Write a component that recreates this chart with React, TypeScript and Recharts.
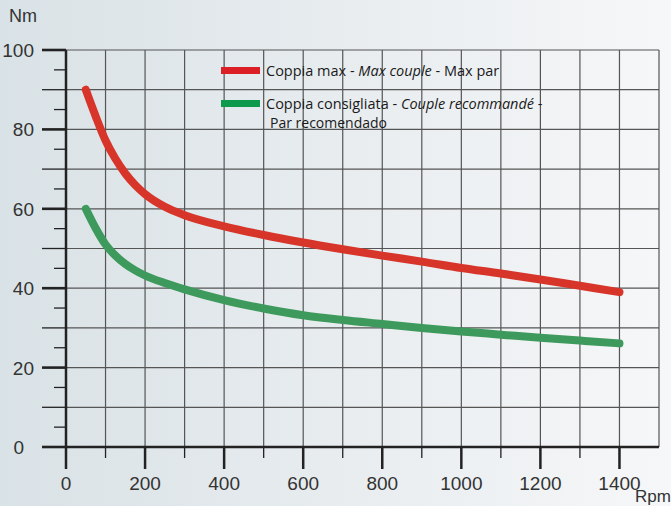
import React from "react";
import { LineChart, Line, XAxis, YAxis, CartesianGrid } from "recharts";

// rpm values where the curves were read
const rpm = [50, 75, 100, 125, 150, 175, 200, 250, 300, 400, 500, 600, 700, 800, 900, 1000, 1100, 1200, 1300, 1400];
// Coppia max (Nm)
const maxTorque = [90, 83.3, 77.2, 72.6, 68.9, 66, 63.7, 60.5, 58.4, 55.6, 53.4, 51.5, 49.8, 48.2, 46.7, 45.1, 43.7, 42.2, 40.6, 39];
// Coppia consigliata (Nm)
const recTorque = [60, 55.1, 51, 48.2, 46.1, 44.5, 43.2, 41.3, 39.7, 37, 34.9, 33.2, 32, 31, 30, 29.1, 28.3, 27.5, 26.8, 26.1];

const xTicks = [0, 100, 200, 300, 400, 500, 600, 700, 800, 900, 1000, 1100, 1200, 1300, 1400, 1500];
const xLabels = [0, 200, 400, 600, 800, 1000, 1200, 1400];
const yTicks = [0, 5, 10, 15, 20, 25, 30, 35, 40, 45, 50, 55, 60, 65, 70, 75, 80, 85, 90, 95, 100];
const yGrid = [0, 10, 20, 30, 40, 50, 60, 70, 80, 90, 100];
const yLabels = [0, 20, 40, 60, 80, 100];

const data = rpm.map((r, i) => ({ rpm: r, max: maxTorque[i], rec: recTorque[i] }));

const RED = "#d8352a";
const GREEN = "#3d9a5c";
const FONT = "'Liberation Sans', Arial, sans-serif";

const XTick = (props: any) => {
  const { x, y, payload } = props;
  const v = payload.value;
  if (v > 1400) return <g />;
  const major = v % 200 === 0;
  return (
    <g>
      <line x1={x} x2={x} y1={y} y2={y + (major ? 22 : 11)} stroke="#222" strokeWidth={major ? 2.5 : 1.3} />
      {xLabels.includes(v) && (
        <text x={x} y={y + 43} textAnchor="middle" fontSize={19} fill="#333" fontFamily={FONT}>
          {v}
        </text>
      )}
    </g>
  );
};

const YTick = (props: any) => {
  const { x, y, payload } = props;
  const v = payload.value;
  const ten = v % 10 === 0;
  const labelled = yLabels.includes(v);
  return (
    <g>
      <line
        x1={ten ? x - 24 : x - 12}
        x2={x}
        y1={y}
        y2={y}
        stroke="#222"
        strokeWidth={labelled ? 2.6 : 1.3}
      />
      {labelled && (
        <text
          x={v === 0 ? x - 42 : x - 32}
          y={y + 7}
          textAnchor="end"
          fontSize={19}
          fill="#333"
          fontFamily={FONT}
        >
          {v}
        </text>
      )}
    </g>
  );
};

export default function App() {
  return (
    <div
      style={{
        position: "absolute",
        left: 0,
        top: 0,
        width: 671,
        height: 506,
        background: "linear-gradient(to right, #d9e2e6 0%, #e6ebee 45%, #f6f7f8 100%)",
        overflow: "hidden",
      }}
    >
      <LineChart width={671} height={506} data={data} margin={{ top: 50, right: 12, bottom: 0, left: 0 }}>
        <CartesianGrid
          stroke="#555"
          strokeWidth={1.2}
          horizontalValues={yGrid}
          verticalValues={xTicks}
        />
        <XAxis
          dataKey="rpm"
          type="number"
          domain={[0, 1500]}
          ticks={xTicks}
          height={59}
          tickSize={0}
          tickMargin={0}
          tickLine={false}
          axisLine={{ stroke: "#222", strokeWidth: 2.5 }}
          tick={<XTick />}
          interval={0}
        />
        <YAxis
          type="number"
          domain={[0, 100]}
          ticks={yTicks}
          width={66}
          tickSize={0}
          tickMargin={0}
          tickLine={false}
          axisLine={{ stroke: "#222", strokeWidth: 2.5 }}
          tick={<YTick />}
          interval={0}
        />
        <Line
          type="monotone"
          dataKey="max"
          stroke={RED}
          strokeWidth={8}
          strokeLinecap="round"
          dot={false}
          isAnimationActive={false}
        />
        <Line
          type="monotone"
          dataKey="rec"
          stroke={GREEN}
          strokeWidth={8}
          strokeLinecap="round"
          dot={false}
          isAnimationActive={false}
        />
      </LineChart>

      <div style={{ position: "absolute", left: 9, top: 6, fontSize: 18, color: "#333", fontFamily: FONT }}>Nm</div>
      <div style={{ position: "absolute", left: 635, top: 487, fontSize: 17, lineHeight: "19px", color: "#333", fontFamily: FONT }}>Rpm</div>

      <div
        style={{
          position: "absolute",
          left: 221,
          top: 62,
          fontFamily: "'Open Sans', sans-serif",
          fontSize: 14.5,
          color: "#1a1a1a",
          lineHeight: "17px",
        }}
      >
        <div style={{ display: "flex", alignItems: "center" }}>
          <span style={{ display: "inline-block", width: 39, height: 7, background: "#dc1f26", marginRight: 6 }} />
          <span>
            Coppia max - <i>Max couple</i> - Max par
          </span>
        </div>
        <div style={{ display: "flex", alignItems: "center", marginTop: 16 }}>
          <span style={{ display: "inline-block", width: 39, height: 7, background: "#0d9a4c", marginRight: 6 }} />
          <span>
            Coppia consigliata - <i>Couple recommandé</i> -
          </span>
        </div>
        <div style={{ marginLeft: 49, marginTop: 3, fontSize: 14, lineHeight: "16px" }}>Par recomendado</div>
      </div>
    </div>
  );
}
